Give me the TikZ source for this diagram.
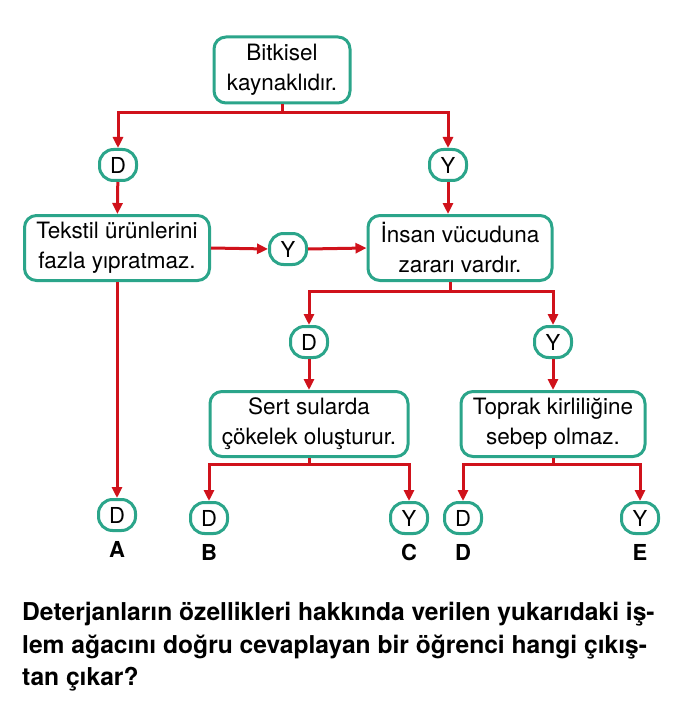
\documentclass[tikz,border=0pt]{standalone}
\usepackage{fontspec}
\setmainfont{TeX Gyre Heros}
\usepackage{xcolor}
\usetikzlibrary{arrows.meta,positioning}

\definecolor{boxgreen}{HTML}{2BA58A}
\definecolor{linered}{HTML}{D0121B}

\begin{document}
\begin{tikzpicture}[
  x=1pt, y=-1pt,
  block/.style={rectangle, rounded corners=12pt, draw=boxgreen, line width=3pt, fill=white, align=center,
    font=\fontsize{22.5}{30}\selectfont, inner sep=0pt},
  answer/.style={rectangle, rounded corners=14pt, draw=boxgreen, line width=3pt, fill=white,
    minimum width=37pt, minimum height=31pt, inner sep=0pt, font=\fontsize{22}{24}\selectfont},
  option/.style={font=\fontsize{22}{24}\selectfont\bfseries},
  line/.style={linered, line width=3pt},
  arrow/.style={line, -{Triangle[length=11pt,width=10pt]}}
]
\useasboundingbox (0,0) rectangle (682,714);

\node[block, minimum width=136pt, minimum height=66pt] (root) at (282,70) {Bitkisel\\kaynaklıdır.};
\node[answer] (d1) at (118,165) {D};
\node[answer] (y1) at (448,165) {Y};
\node[block, minimum width=185pt, minimum height=65pt] (tekstil) at (117,248) {Tekstil ürünlerini\\fazla yıpratmaz.};
\node[answer] (y2) at (288,249) {Y};
\node[block, minimum width=184pt, minimum height=65pt] (insan) at (460,248) {İnsan vücuduna\\zararı vardır.};
\node[answer] (d2) at (309,342) {D};
\node[answer] (y3) at (553,342) {Y};
\node[block, minimum width=198pt, minimum height=65pt] (sert) at (309,424) {Sert sularda\\çökelek oluşturur.};
\node[block, minimum width=184pt, minimum height=65pt] (toprak) at (553,424) {Toprak kirliliğine\\sebep olmaz.};

% uclar
\node[answer] (ea) at (117,515) {D};
\node[answer] (eb) at (209,518) {D};
\node[answer] (ec) at (409,518) {Y};
\node[answer] (ed) at (463,518) {D};
\node[answer] (ee) at (640,518) {Y};

\node[option, below=6pt of ea] (la) {A};
\node[option, below=6pt of eb] (lb) {B};
\node[option, below=6pt of ec] (lc) {C};
\node[option, below=6pt of ed] (ld) {D};
\node[option, below=6pt of ee] (le) {E};

% kollar
\coordinate (j1) at (282,113);
\coordinate (j2) at (450,291);
\coordinate (j3) at (309,464);
\coordinate (j4) at (553,464);

\draw[line] (root.south) -- (j1);
\draw[arrow] (j1) -| (d1.north);
\draw[arrow] (j1) -| (y1.north);
\draw[arrow] (d1) -- (tekstil);
\draw[arrow] (tekstil.east) -- (y2.west);
\draw[arrow] (y2.east) -- (insan.west);
\draw[arrow] (y1.south) -- (y1.south |- insan.north);
\draw[arrow] (tekstil.south) -- (ea.north);

\draw[line] (j2 |- insan.south) -- (j2);
\draw[arrow] (j2) -| (d2.north);
\draw[arrow] (j2) -| (y3.north);
\draw[arrow] (d2) -- (sert);
\draw[arrow] (y3) -- (toprak);

\draw[line] (sert.south) -- (j3);
\draw[arrow] (j3) -| (eb.north);
\draw[arrow] (j3) -| (ec.north);
\draw[line] (toprak.south) -- (j4);
\draw[arrow] (j4) -| (ed.north);
\draw[arrow] (j4) -| (ee.north);

\node[anchor=north west, align=left, inner sep=0pt, font=\fontsize{24.6}{32.5}\selectfont\bfseries] (soru) at (22,602)
  {Deterjanların özellikleri hakkında verilen yukarıdaki iş-\\
   lem ağacını doğru cevaplayan bir öğrenci hangi çıkış-\\
   tan çıkar?};
\end{tikzpicture}
\end{document}
